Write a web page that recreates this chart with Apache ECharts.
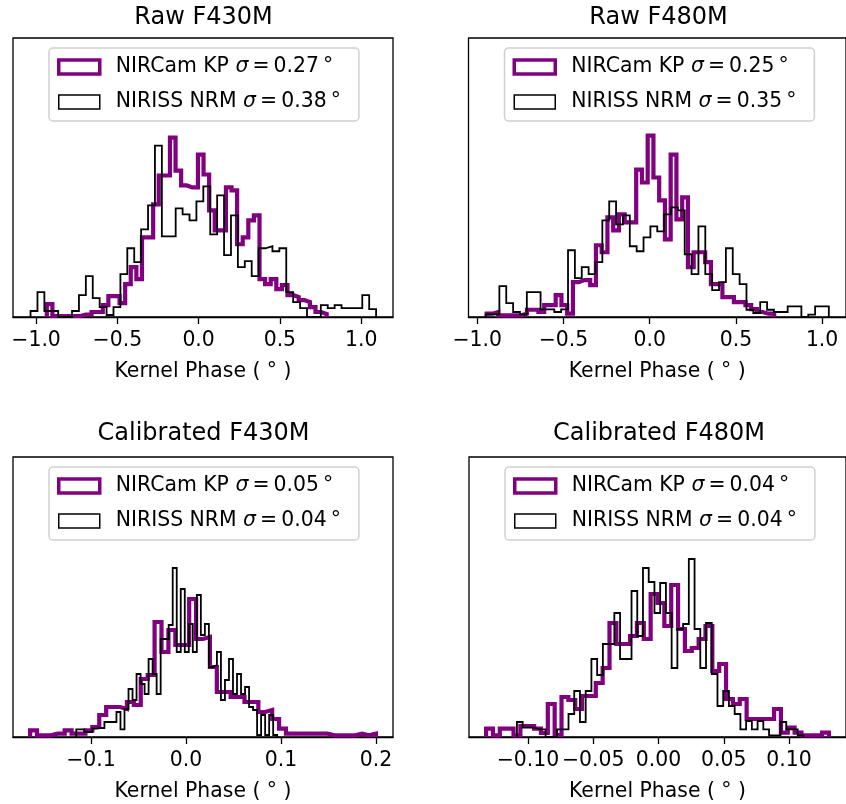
<!DOCTYPE html>
<html>
<head>
<meta charset="utf-8">
<script src="https://cdn.jsdelivr.net/npm/echarts@6/dist/echarts.min.js"></script>
<style>
  html, body { margin: 0; padding: 0; background: #fff; }
  #chart { width: 846px; height: 804px; }
</style>
</head>
<body>
<div id="chart"></div>
<script>
// panel texts
const panelTitles = ['Raw F430M', 'Raw F480M', 'Calibrated F430M', 'Calibrated F480M']
const kpSigma = ['0.27', '0.25', '0.05', '0.04']
const nrmSigma = ['0.38', '0.35', '0.04', '0.04']

// x axis limits and tick labels
const xLimits = [[-1.142, 1.196], [-1.0505, 1.1385], [-0.182, 0.218], [-0.1451, 0.1436]]
const tickValues = [
  [-1, -0.5, 0, 0.5, 1],
  [-1, -0.5, 0, 0.5, 1],
  [-0.1, 0, 0.1, 0.2],
  [-0.1, -0.05, 0, 0.05, 0.1]
]
const tickDecimals = [1, 1, 1, 2]

// histogram ranges (50 bins each)
const kpRanges = [[-0.934, 0.788], [-0.945, 0.722], [-0.164, 0.200], [-0.132, 0.1305]]
const nrmRanges = [[-1.034, 1.092], [-0.951, 1.039], [-0.1154, 0.0961], [-0.1084, 0.111]]

// bin heights (arbitrary units)
const kpRawF430 = [13, 1, 1, 1, 1, 1, 2.5, 2.5, 5, 5, 12, 21, 21, 14, 33, 50, 38, 80, 80, 113,
  142, 142, 180, 147, 132, 130, 130, 163, 143, 107, 87, 87, 130, 127, 73, 80, 97, 102, 38, 33,
  38, 28, 32, 22, 20, 17, 15, 10, 5, 3]
const nrmRawF430 = [6, 25, 6, 6, 0, 0, 6, 22, 41, 19, 10, 2, 10, 43, 69, 55, 88, 112, 172, 81,
  81, 109, 103, 97, 116, 131, 83, 122, 62, 102, 50, 56, 41, 69, 71, 66, 69, 25, 15, 9,
  0, 0, 12, 9, 12, 9, 9, 9, 22, 8]
const kpRawF480 = [3.3, 5, 1.7, 1.7, 1.7, 1.7, 3.3, 7.3, 7.3, 5, 12, 12, 22, 12, 3.3, 35, 37, 37, 32, 72,
  65, 100, 87, 103, 95, 95, 148, 135, 182, 140, 117, 78, 163, 98, 120, 50, 65, 65, 55, 33,
  33, 20, 20, 15, 15, 12, 8, 5, 3.3, 3.3]
const nrmRawF480 = [2.7, 2.7, 31, 14, 5, 2.7, 25, 25, 7.7, 7.7, 5, 7.7, 67, 39, 50, 43, 55, 97, 116, 93,
  102, 71, 66, 80, 91, 86, 103, 110, 107, 63, 43, 91, 43, 27, 35, 69, 43, 33, 7.3, 4,
  15, 7.3, 5, 5, 10.7, 10.7, 0, 2.3, 10.7, 10.7]
const kpCalF430 = [6.7, 1.7, 1.7, 3.3, 3.3, 6.7, 3.3, 3.3, 6.7, 10, 22, 30, 30, 28, 35, 32, 58, 62, 115, 85,
  107, 92, 92, 138, 98, 100, 70, 45, 45, 40, 40, 35, 35, 25, 27, 18, 8.3, 3.3, 3.3, 3.3,
  3.3, 3.3, 3.3, 1.7, 1.7, 1.7, 1.7, 3.3, 1.7, 3.3]
const nrmCalF430 = [7.7, 7.7, 5, 5, 8.3, 9, 9, 15, 15, 15, 25, 7.7, 28, 48, 37, 63, 53, 43, 78, 63,
  43, 98, 98, 112, 169, 85, 148, 85, 113, 85, 142, 102, 113, 70, 72, 85, 37, 57, 78, 43,
  63, 43, 50, 30, 27, 2, 22, 2, 22, 2]
const kpCalF480 = [8.3, 1.7, 8.3, 8.3, 1.7, 11, 11, 8.3, 4, 33, 2, 40, 37, 28, 41, 41, 54, 69, 114, 93,
  93, 101, 114, 98, 143, 134, 111, 152, 108, 86, 89, 98, 111, 66, 73, 38, 33, 38, 18, 18,
  18, 18, 28, 4.3, 9.3, 4.3, 1.7, 1.7, 1.7, 4.3]
const nrmCalF480 = [15, 9.3, 9.3, 7.7, 7.7, 0, 0, 7.7, 7.7, 23, 46, 15, 46, 78, 62, 93, 93, 124, 78, 78,
  146, 101, 169, 155, 124, 154, 124, 69, 108, 113, 178, 108, 69, 114, 63, 31, 46, 31, 23, 7.7,
  16, 7.7, 16, 7.7, 1.7, 1.7, 15, 7.7, 7.7, 1.7]

const kpCounts = [kpRawF430, kpRawF480, kpCalF430, kpCalF480]
const nrmCounts = [nrmRawF430, nrmRawF480, nrmCalF430, nrmCalF480]

const font = 'DejaVu Sans'
const purple = '#800080'
const grids = [
  { left: 13, top: 38, width: 380, height: 279 },
  { left: 468.5, top: 38, width: 380, height: 279 },
  { left: 13, top: 457, width: 380, height: 280 },
  { left: 469, top: 457, width: 380, height: 280 }
]
const titleTops = [6, 6, 422, 422]

// step outline like matplotlib histtype='step'
function stepOutline(range, counts) {
  const n = counts.length
  const w = (range[1] - range[0]) / n
  const pts = [[range[0], 0]]
  counts.forEach((c, k) => {
    pts.push([range[0] + k * w, c], [range[0] + (k + 1) * w, c])
  })
  pts.push([range[1], 0])
  return pts
}

function fmtTick(v, d) {
  const s = Math.abs(v).toFixed(d)
  return v < 0 ? '\u2212' + s : s
}

const xAxes = []
const yAxes = []
const series = []
const titles = []
const legends = []

grids.forEach((g, i) => {
  xAxes.push({
    gridIndex: i,
    type: 'value',
    min: xLimits[i][0],
    max: xLimits[i][1],
    name: 'Kernel Phase ( \u00b0 )',
    nameLocation: 'middle',
    nameGap: 45,
    nameTextStyle: { fontFamily: font, fontSize: 20.4, color: '#000' },
    axisLine: { show: true, lineStyle: { color: '#000', width: 1.3 } },
    axisTick: { show: true, length: 7, lineStyle: { color: '#000', width: 1.3 }, customValues: tickValues[i] },
    axisLabel: {
      show: true, margin: 14, fontFamily: font, fontSize: 20.4, color: '#000',
      customValues: tickValues[i],
      formatter: v => fmtTick(v, tickDecimals[i])
    },
    splitLine: { show: false }
  })
  yAxes.push({
    gridIndex: i, type: 'value', min: 0, max: 280,
    axisLine: { show: false }, axisTick: { show: false }, axisLabel: { show: false }, splitLine: { show: false }
  })
  series.push({
    name: 'kp' + i, type: 'line', xAxisIndex: i, yAxisIndex: i,
    data: stepOutline(kpRanges[i], kpCounts[i]),
    showSymbol: false, symbol: 'none', silent: true, clip: true,
    lineStyle: { color: purple, width: 4.2, join: 'miter', cap: 'butt' },
    itemStyle: { color: purple }, z: 2
  })
  series.push({
    name: 'nrm' + i, type: 'line', xAxisIndex: i, yAxisIndex: i,
    data: stepOutline(nrmRanges[i], nrmCounts[i]),
    showSymbol: false, symbol: 'none', silent: true, clip: true,
    lineStyle: { color: '#000', width: 1.8, join: 'miter', cap: 'butt' },
    itemStyle: { color: '#000' }, z: 3
  })
  titles.push({
    text: panelTitles[i],
    left: g.left + g.width / 2 + (i % 2 ? 0 : 0.5),
    top: titleTops[i],
    textAlign: 'center',
    padding: 0,
    textStyle: { fontFamily: font, fontSize: 24, fontWeight: 'normal', color: '#000' }
  })
  legends.push({
    data: [
      { name: 'kp' + i, icon: 'rect', itemStyle: { color: '#fff', borderColor: purple, borderWidth: 3.5 } },
      { name: 'nrm' + i, icon: 'rect', itemStyle: { color: '#fff', borderColor: '#000', borderWidth: 1.5 } }
    ],
    orient: 'vertical',
    left: g.left + 36,
    top: g.top + 10,
    selectedMode: false,
    itemWidth: 41,
    itemHeight: 14,
    itemGap: 15,
    padding: [9, 18, 9, 8],
    backgroundColor: '#fff',
    borderColor: '#d0d0d0',
    borderWidth: 1.5,
    borderRadius: 4,
    formatter: name => {
      const kp = name.startsWith('kp')
      const label = kp ? 'NIRCam KP ' : 'NIRISS NRM '
      const sig = kp ? kpSigma[i] : nrmSigma[i]
      return '{a|' + label + '}{s|\u03c3}{a|\u2009=\u2009' + sig + '\u2009\u00b0}'
    },
    textStyle: {
      fontFamily: font, fontSize: 20.4, color: '#000', padding: [0, 0, 0, 11],
      rich: {
        a: { fontFamily: font, fontSize: 20.4, color: '#000' },
        s: { fontFamily: font, fontSize: 20.4, fontStyle: 'italic', color: '#000' }
      }
    }
  })
})

const chart = echarts.init(document.getElementById('chart'), null, { renderer: 'canvas' })
chart.setOption({
  animation: false,
  backgroundColor: '#fff',
  title: titles,
  legend: legends,
  grid: grids.map(g => Object.assign({ show: true, borderColor: '#000', borderWidth: 1.3, backgroundColor: 'transparent' }, g)),
  xAxis: xAxes,
  yAxis: yAxes,
  series: series
})
</script>
</body>
</html>
